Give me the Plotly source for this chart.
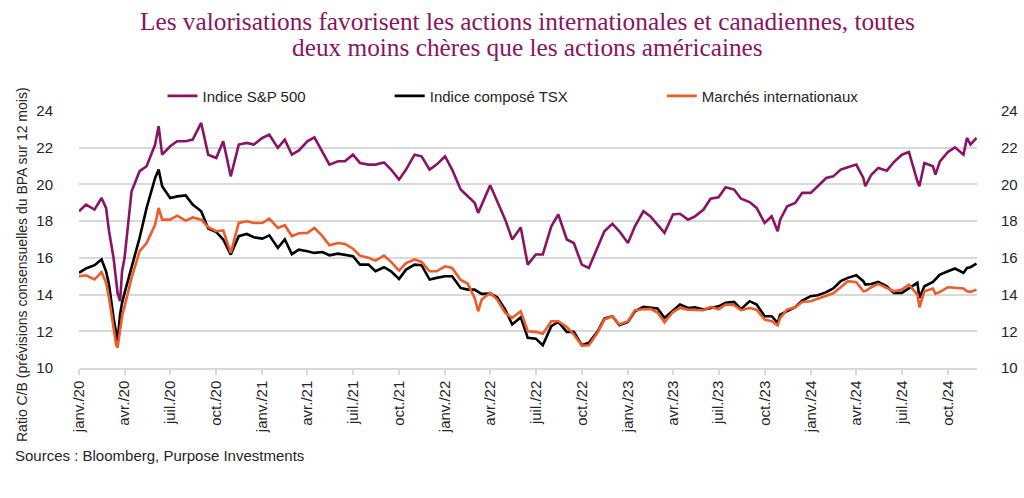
import plotly.graph_objects as go

dates = [
    "2020-01-01", "2020-01-15", "2020-02-01", "2020-02-15", "2020-02-24", "2020-03-01", "2020-03-10", "2020-03-15",
    "2020-03-18", "2020-03-23", "2020-03-27", "2020-04-01", "2020-04-15", "2020-05-01", "2020-05-15", "2020-06-01",
    "2020-06-08", "2020-06-15", "2020-07-01", "2020-07-15", "2020-08-01", "2020-08-15", "2020-09-01", "2020-09-15",
    "2020-10-01", "2020-10-15", "2020-10-30", "2020-11-15", "2020-12-01", "2020-12-15",
    "2021-01-01", "2021-01-15", "2021-02-01", "2021-02-15", "2021-03-01", "2021-03-15", "2021-04-01", "2021-04-15",
    "2021-05-01", "2021-05-15", "2021-06-01", "2021-06-15", "2021-07-01", "2021-07-15", "2021-08-01", "2021-08-15",
    "2021-09-01", "2021-09-15", "2021-10-01", "2021-10-15", "2021-11-01", "2021-11-15", "2021-12-01", "2021-12-15",
    "2022-01-01", "2022-01-15", "2022-02-01", "2022-02-15", "2022-03-01", "2022-03-08", "2022-03-15", "2022-04-01",
    "2022-04-15", "2022-05-01", "2022-05-15", "2022-06-01", "2022-06-15", "2022-07-01", "2022-07-15", "2022-08-01",
    "2022-08-15", "2022-09-01", "2022-09-15", "2022-10-01", "2022-10-15", "2022-11-01", "2022-11-15", "2022-12-01",
    "2022-12-15",
    "2023-01-01", "2023-01-15", "2023-02-01", "2023-02-15", "2023-03-01", "2023-03-15", "2023-04-01", "2023-04-15",
    "2023-05-01", "2023-05-15", "2023-06-01", "2023-06-15", "2023-07-01", "2023-07-15", "2023-08-01", "2023-08-15",
    "2023-09-01", "2023-09-15", "2023-10-01", "2023-10-15", "2023-10-27", "2023-11-01", "2023-11-15", "2023-12-01",
    "2023-12-15",
    "2024-01-01", "2024-01-15", "2024-02-01", "2024-02-15", "2024-03-01", "2024-03-15", "2024-04-01", "2024-04-15",
    "2024-04-19", "2024-05-01", "2024-05-15", "2024-06-01", "2024-06-15", "2024-07-01", "2024-07-15", "2024-08-01",
    "2024-08-05", "2024-08-15", "2024-09-01", "2024-09-06", "2024-09-15", "2024-10-01", "2024-10-15", "2024-11-01",
    "2024-11-08", "2024-11-15", "2024-11-27",
]

sp500 = [
    18.54, 18.90, 18.63, 19.26, 18.72, 17.45, 16.00, 14.91, 14.09, 13.64, 15.27, 16.00, 19.63, 20.72, 20.99, 22.17,
    23.17, 21.62, 22.08, 22.35, 22.35, 22.44, 23.35, 21.62, 21.44, 22.35, 20.44, 22.17, 22.26, 22.17,
    22.53, 22.71, 21.99, 22.44, 21.62, 21.85, 22.35, 22.57, 21.80, 21.08, 21.26, 21.26, 21.62, 21.17, 21.08, 21.08,
    21.20, 20.81, 20.26, 20.81, 21.62, 21.53, 20.81, 21.08,
    21.53, 20.81, 19.72, 19.35, 19.00, 18.45, 18.90, 19.95, 19.08, 18.08, 17.00, 17.66, 15.63, 16.18, 16.18, 17.72,
    18.36, 17.00, 16.81, 15.63, 15.45, 16.54, 17.45, 17.85, 17.45,
    16.81, 17.72, 18.54, 18.26, 17.81, 17.36, 18.36, 18.40, 18.08, 18.26, 18.63, 19.22, 19.30, 19.85, 19.72, 19.22,
    19.04, 18.72, 17.90, 18.26, 17.45, 18.08, 18.81, 18.99, 19.54,
    19.54, 19.90, 20.35, 20.44, 20.81, 20.94, 21.08, 20.35, 19.90, 20.53, 20.90, 20.75, 21.22, 21.62, 21.77, 20.17,
    19.90, 21.17, 20.99, 20.53, 21.26, 21.77, 22.02, 21.62, 22.53, 22.17, 22.53,
]

tsx = [
    15.18, 15.42, 15.60, 15.91, 15.27, 14.54, 12.73, 11.82, 11.46, 12.91, 13.55, 14.09, 15.45, 17.09, 18.72, 20.35,
    20.81, 19.90, 19.26, 19.35, 19.40, 18.90, 18.54, 17.60, 17.41, 17.00, 16.18, 17.18, 17.30, 17.12,
    17.05, 17.23, 16.54, 17.00, 16.20, 16.45, 16.36, 16.27, 16.32, 16.14, 16.23, 16.18, 16.09, 15.63, 15.63, 15.27,
    15.49, 15.27, 14.85, 15.36, 15.63, 15.60, 14.82, 14.91,
    15.00, 15.00, 14.36, 14.27, 14.27, 14.15, 14.04, 14.05, 13.85, 13.18, 12.37, 12.77, 11.64, 11.60, 11.24, 12.28,
    12.51, 11.97, 11.97, 11.24, 11.37, 11.97, 12.69, 12.82, 12.33,
    12.51, 13.09, 13.33, 13.27, 13.24, 12.73, 13.13, 13.46, 13.27, 13.31, 13.18, 13.27, 13.36, 13.55, 13.60, 13.20,
    13.64, 13.46, 12.82, 12.82, 12.46, 12.91, 13.09, 13.31, 13.67,
    13.91, 13.96, 14.13, 14.33, 14.73, 14.91, 15.05, 14.73, 14.54, 14.58, 14.69, 14.45, 14.09, 14.09, 14.36, 14.64,
    13.82, 14.45, 14.69, 14.82, 15.09, 15.27, 15.42, 15.18, 15.45, 15.49, 15.69,
]

intl = [
    15.00, 15.05, 14.82, 15.23, 14.64, 13.82, 12.19, 11.28, 11.10, 12.09, 12.82, 13.36, 14.91, 16.36, 16.81, 17.81,
    18.72, 18.08, 18.08, 18.30, 18.03, 18.20, 18.08, 17.67, 17.45, 17.49, 16.27, 17.90, 17.99, 17.90,
    17.90, 18.14, 17.63, 17.78, 17.18, 17.34, 17.36, 17.63, 17.18, 16.69, 16.81, 16.76, 16.50, 16.12, 16.00, 15.85,
    16.12, 15.78, 15.31, 15.72, 15.91, 15.78, 15.27, 15.27,
    15.54, 15.45, 14.80, 14.60, 13.82, 13.09, 13.73, 14.09, 13.73, 13.00, 12.73, 13.09, 12.00, 11.97, 11.86, 12.55,
    12.55, 12.24, 11.82, 11.22, 11.24, 11.91, 12.64, 12.82, 12.37,
    12.55, 13.15, 13.20, 13.22, 13.02, 12.49, 13.05, 13.27, 13.18, 13.18, 13.15, 13.33, 13.20, 13.46, 13.42, 13.15,
    13.27, 13.18, 12.64, 12.55, 12.33, 12.73, 13.18, 13.31, 13.60,
    13.64, 13.78, 13.91, 14.07, 14.40, 14.73, 14.67, 14.18, 14.18, 14.40, 14.58, 14.36, 14.18, 14.27, 14.54, 14.00,
    13.31, 14.18, 14.33, 14.04, 14.15, 14.40, 14.36, 14.33, 14.18, 14.15, 14.27,
]

series_names = ["Indice S&P 500", "Indice composé TSX", "Marchés internationaux"]
series_colors = ["#8A1463", "#000000", "#F15A29"]

tick_dates = ["2020-01-01", "2020-04-01", "2020-07-01", "2020-10-01", "2021-01-01", "2021-04-01", "2021-07-01",
              "2021-10-01", "2022-01-01", "2022-04-01", "2022-07-01", "2022-10-01", "2023-01-01", "2023-04-01",
              "2023-07-01", "2023-10-01", "2024-01-01", "2024-04-01", "2024-07-01", "2024-10-01"]
tick_labels = ["janv./20", "avr./20", "juil./20", "oct./20", "janv./21", "avr./21", "juil./21", "oct./21",
               "janv./22", "avr./22", "juil./22", "oct./22", "janv./23", "avr./23", "juil./23", "oct./23",
               "janv./24", "avr./24", "juil./24", "oct./24"]
y_ticks = [10, 12, 14, 16, 18, 20, 22, 24]

title_lines = ["Les valorisations favorisent les actions internationales et canadiennes, toutes",
               "deux moins chères que les actions américaines"]
y_title = "Ratio C/B (prévisions consensuelles du BPA sur 12 mois)"
source_text = "Sources : Bloomberg, Purpose Investments"

FONT = "Liberation Sans, Arial, sans-serif"
TXT = "#262626"
GRID = "#d9d9d9"
TITLE_COL = "#8A1463"

fig = go.Figure()
legends = ["legend", "legend2", "legend3"]
for name, vals, col, lg in zip(series_names, [sp500, tsx, intl], series_colors, legends):
    fig.add_trace(go.Scatter(x=dates, y=vals, mode="lines", name=name, legend=lg,
                             line=dict(color=col, width=2.6)))
# invisible trace to drive the right-hand axis
fig.add_trace(go.Scatter(x=dates, y=sp500, mode="lines", yaxis="y2", showlegend=False,
                         hoverinfo="skip", line=dict(color="rgba(0,0,0,0)", width=0)))

legend_common = dict(orientation="h", yanchor="middle", xanchor="left", y=1.058,
                     bgcolor="rgba(0,0,0,0)", font=dict(family=FONT, size=15, color=TXT),
                     itemwidth=30, borderwidth=0)

fig.update_layout(
    width=1024, height=498,
    margin=dict(l=79, r=47, t=111, b=130, autoexpand=False),
    paper_bgcolor="white", plot_bgcolor="white",
    font=dict(family=FONT, size=15, color=TXT),
    legend=dict(x=0.093, **legend_common),
    legend2=dict(x=0.346, **legend_common),
    legend3=dict(x=0.649, **legend_common),
    xaxis=dict(type="date", range=["2020-01-01", "2024-11-28"], tickmode="array",
               tickvals=tick_dates, ticktext=tick_labels, tickangle=-90, automargin=False,
               ticks="outside", ticklen=5, tickcolor=GRID, tickwidth=1.5,
               showline=True, linecolor=GRID, linewidth=1.5, showgrid=False, zeroline=False,
               tickfont=dict(family=FONT, size=15, color=TXT)),
    yaxis=dict(range=[10, 24], tickmode="array", tickvals=y_ticks, showgrid=True, gridcolor=GRID,
               gridwidth=1.5, zeroline=False, automargin=False,
               ticks="outside", ticklen=22, tickcolor="rgba(0,0,0,0)",
               tickfont=dict(family=FONT, size=15, color=TXT)),
    yaxis2=dict(range=[10, 24], tickmode="array", tickvals=y_ticks, overlaying="y", side="right",
                showgrid=False, zeroline=False, automargin=False,
                ticks="outside", ticklen=20, tickcolor="rgba(0,0,0,0)",
                tickfont=dict(family=FONT, size=15, color=TXT)),
    showlegend=True,
)

for i, line in enumerate(title_lines):
    fig.add_annotation(text=line, xref="paper", yref="paper", x=(527 - 79) / 898, y=(368 - (21 + 26 * i)) / 257,
                       xanchor="center", yanchor="middle", showarrow=False,
                       font=dict(family="Liberation Serif, Times New Roman, serif", size=25.3, color=TITLE_COL))

fig.add_annotation(text=y_title, xref="paper", yref="paper", x=(22 - 79) / 898, y=(368 - 265) / 257,
                   textangle=-90, showarrow=False, xanchor="center", yanchor="middle",
                   font=dict(family=FONT, size=14, color=TXT))
fig.add_annotation(text=source_text, xref="paper", yref="paper", x=(13 - 79) / 898, y=(368 - 455) / 257,
                   xanchor="left", yanchor="middle", showarrow=False,
                   font=dict(family=FONT, size=15, color=TXT))

fig.write_html("out.html", config={"displayModeBar": False},
               post_script="document.body.style.margin='0px';")
